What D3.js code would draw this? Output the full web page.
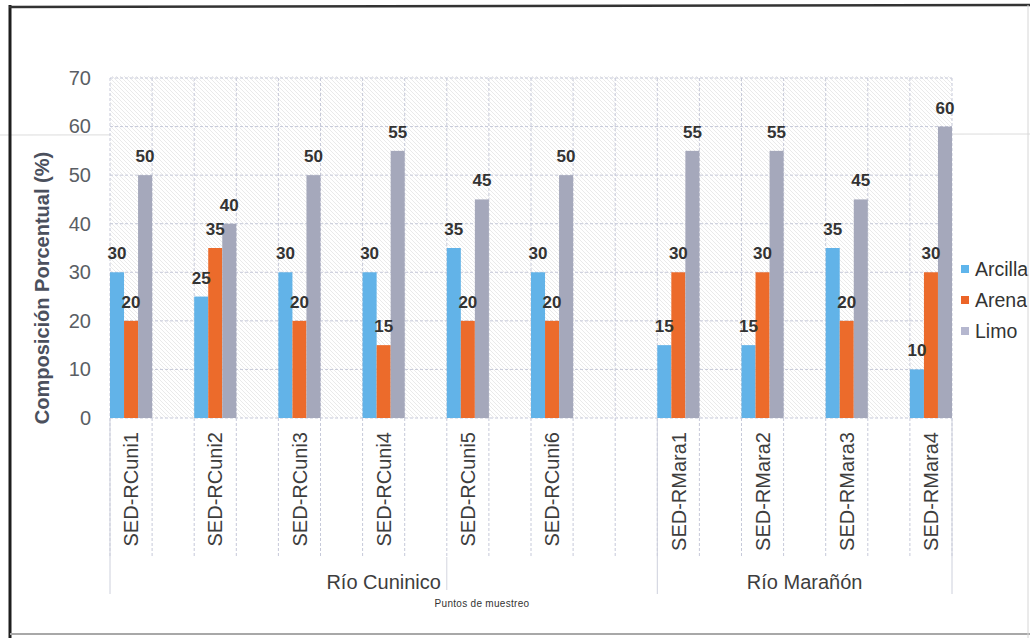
<!DOCTYPE html>
<html>
<head>
<meta charset="utf-8">
<script src="https://cdn.jsdelivr.net/npm/d3@7"></script>
<style>
  html, body { margin: 0; padding: 0; background: #ffffff; }
  svg { display: block; font-family: "Liberation Sans", Arial, sans-serif; }
</style>
</head>
<body>
<svg id="chart" width="1030" height="638"></svg>
<script>
// Sampling points along the category axis; empty strings are spacer slots.
const slots = [
  "SED-RCuni1", "", "SED-RCuni2", "", "SED-RCuni3", "", "SED-RCuni4", "",
  "SED-RCuni5", "", "SED-RCuni6", "", "",
  "SED-RMara1", "", "SED-RMara2", "", "SED-RMara3", "", "SED-RMara4"
];
const samples = ["SED-RCuni1", "SED-RCuni2", "SED-RCuni3", "SED-RCuni4", "SED-RCuni5",
                 "SED-RCuni6", "SED-RMara1", "SED-RMara2", "SED-RMara3", "SED-RMara4"];
const seriesNames = ["Arcilla", "Arena", "Limo"];
const arcilla = [30, 25, 30, 30, 35, 30, 15, 15, 35, 10];
const arena   = [20, 35, 20, 15, 20, 20, 30, 30, 20, 30];
const limo    = [50, 40, 50, 55, 45, 50, 55, 55, 45, 60];
const yTicks  = [0, 10, 20, 30, 40, 50, 60, 70];
// River groups: first and last slot index covered by each label.
const groups = [
  { name: "Río Cuninico", from: 0, to: 12 },
  { name: "Río Marañón", from: 13, to: 19 }
];
const colors = { Arcilla: "#62b3e8", Arena: "#ec6b2b", Limo: "#a5a8bb" };
const legendColors = { Arcilla: "#5fb5ec", Arena: "#ec6428", Limo: "#b5b7cf" };

const values = { Arcilla: arcilla, Arena: arena, Limo: limo };

const svg = d3.select("#chart");
const W = 1030, H = 638;
const plot = { left: 110, right: 952, top: 78, bottom: 418 };

// Diagonal hatch used as the plot background texture
const defs = svg.append("defs");
const pat = defs.append("pattern")
  .attr("id", "hatch").attr("patternUnits", "userSpaceOnUse")
  .attr("width", 4).attr("height", 4);
pat.append("rect").attr("width", 4).attr("height", 4).attr("fill", "#ffffff");
pat.append("path")
  .attr("d", "M-1,-1 L5,5 M3,-1 L5,1 M-1,3 L1,5")
  .attr("stroke", "#e4e4e4").attr("stroke-width", 0.8);

const x = d3.scaleBand().domain(d3.range(slots.length))
  .range([plot.left, plot.right]).paddingInner(0).paddingOuter(0);
const xs = d3.scaleBand().domain(seriesNames).range([0, x.bandwidth()]).padding(0);
const y = d3.scaleLinear().domain([0, 70]).range([plot.bottom, plot.top]);

// Faint fold line across the page
svg.append("line").attr("x1", 0).attr("x2", W).attr("y1", 135).attr("y2", 134)
  .attr("stroke", "#dcdcdc").attr("stroke-width", 1);

// Plot area
svg.append("rect")
  .attr("x", plot.left).attr("y", plot.top - 2)
  .attr("width", plot.right - plot.left).attr("height", plot.bottom - plot.top + 2)
  .attr("fill", "url(#hatch)");

const gridColor = "#c6c9d9";
// Horizontal gridlines
svg.append("g").selectAll("line").data(yTicks).join("line")
  .attr("x1", plot.left).attr("x2", plot.right)
  .attr("y1", d => y(d)).attr("y2", d => y(d))
  .attr("stroke", gridColor).attr("stroke-width", 1).attr("stroke-dasharray", "3,2");

// Vertical gridlines at each slot boundary, continuing down through the label area
const bounds = d3.range(slots.length + 1).map(i => i < slots.length ? x(i) : plot.right);
svg.append("g").selectAll("line").data(bounds).join("line")
  .attr("x1", d => d).attr("x2", d => d)
  .attr("y1", plot.top).attr("y2", 557)
  .attr("stroke", gridColor).attr("stroke-width", 1).attr("stroke-dasharray", "3,2");

// Group dividers in the river-label row
const groupEdges = [x(groups[0].from), x(groups[1].from), plot.right];
svg.append("g").selectAll("line").data(groupEdges).join("line")
  .attr("x1", d => d).attr("x2", d => d)
  .attr("y1", plot.bottom).attr("y2", 594)
  .attr("stroke", "#cdd0dc").attr("stroke-width", 1);
svg.append("line")
  .attr("x1", x(8)).attr("x2", x(8)).attr("y1", 557).attr("y2", 590)
  .attr("stroke", "#d3d5df").attr("stroke-width", 1);

// Bars
const barData = [];
samples.forEach((s, i) => {
  seriesNames.forEach(k => barData.push({ sample: s, key: k, value: values[k][i] }));
});
const slotOf = s => slots.indexOf(s);

svg.append("g").selectAll("rect").data(barData).join("rect")
  .attr("x", d => x(slotOf(d.sample)) + xs(d.key))
  .attr("width", xs.bandwidth())
  .attr("y", d => y(d.value))
  .attr("height", d => y(0) - y(d.value))
  .attr("fill", d => colors[d.key]);

// Value labels
svg.append("g").selectAll("text").data(barData).join("text")
  .attr("x", d => x(slotOf(d.sample)) + xs(d.key) + xs.bandwidth() / 2)
  .attr("y", d => y(d.value) - 13)
  .attr("text-anchor", "middle")
  .attr("font-size", 17).attr("font-weight", "bold").attr("fill", "#333333")
  .text(d => d.value);

// Y axis
const yAxis = svg.append("g")
  .attr("transform", `translate(${plot.left},0)`)
  .call(d3.axisLeft(y).tickValues(yTicks).tickSize(0).tickPadding(19));
yAxis.select(".domain").remove();
yAxis.selectAll("text")
  .attr("font-size", 20).attr("fill", "#5a5e64")
  .attr("font-family", "Liberation Sans, Arial, sans-serif");

// Y axis title
svg.append("text")
  .attr("transform", "translate(49,288) rotate(-90)")
  .attr("text-anchor", "middle")
  .attr("font-size", 20).attr("font-weight", "bold").attr("fill", "#4b505d")
  .text("Composición Porcentual (%)");

// Category labels (rotated)
svg.append("g").selectAll("text").data(samples).join("text")
  .attr("transform", d => `translate(${x(slotOf(d)) + x.bandwidth() / 2},432) rotate(-90)`)
  .attr("text-anchor", "end").attr("dy", "0.36em")
  .attr("font-size", 20).attr("fill", "#3d3d3d")
  .text(d => d);

// River group labels
svg.append("g").selectAll("text").data(groups).join("text")
  .attr("x", d => (x(d.from) + x(d.to) + x.bandwidth()) / 2)
  .attr("y", 589)
  .attr("text-anchor", "middle")
  .attr("font-size", 20).attr("fill", "#3d3d3d")
  .text(d => d.name);

// Axis caption
svg.append("text")
  .attr("x", 482).attr("y", 607).attr("text-anchor", "middle")
  .attr("font-size", 10).attr("letter-spacing", 0.3).attr("fill", "#333")
  .text("Puntos de muestreo");

// Legend
const legend = svg.append("g").selectAll("g").data(seriesNames).join("g")
  .attr("transform", (d, i) => `translate(961,${269 + i * 31})`);
legend.append("rect").attr("x", 0).attr("y", -4).attr("width", 8).attr("height", 8)
  .attr("fill", d => legendColors[d]);
legend.append("text").attr("x", 14).attr("dy", "0.36em")
  .attr("font-size", 19.5).attr("fill", "#333333")
  .text(d => d);

// Page frame
svg.append("line").attr("x1", 10).attr("x2", 10).attr("y1", 5).attr("y2", H)
  .attr("stroke", "#1e1e1e").attr("stroke-width", 3);
svg.append("line").attr("x1", 9).attr("x2", W).attr("y1", 7).attr("y2", 5)
  .attr("stroke", "#333333").attr("stroke-width", 2.5);
svg.append("line").attr("x1", 10).attr("x2", W).attr("y1", 634).attr("y2", 634)
  .attr("stroke", "#a8a8a8").attr("stroke-width", 2);
svg.append("line").attr("x1", 1028).attr("x2", 1028).attr("y1", 5).attr("y2", H)
  .attr("stroke", "#d6d6d6").attr("stroke-width", 1);
</script>
</body>
</html>
